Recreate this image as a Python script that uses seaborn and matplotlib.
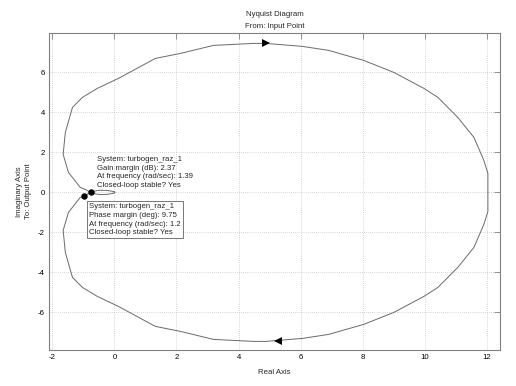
import matplotlib
matplotlib.use("Agg")
import matplotlib.pyplot as plt
import seaborn as sns
import pandas as pd

# Upper half of the Nyquist contour, traced from (12, 0) towards the origin
real_upper = [12.03, 12.03, 11.9, 11.58, 11.06, 10.42, 9.97, 9.0, 8.03, 6.9, 6.06,
              4.87, 4.48, 3.19, 2.13, 1.32, 0.13, -0.55, -1.03, -1.35, -1.58,
              -1.65, -1.48, -1.10, -0.94, -0.76, -0.6, -0.45, -0.25, -0.08, 0.02, 0.0]
imag_upper = [0.0, 0.95, 1.6, 2.75, 3.75, 4.75, 5.2, 6.0, 6.6, 7.1, 7.3,
              7.45, 7.45, 7.35, 6.95, 6.7, 5.7, 5.2, 4.75, 4.25, 3.0,
              1.9, 1.0, 0.25, 0.15, 0.0, -0.08, -0.11, -0.1, -0.06, -0.02, 0.0]

# margin points (gain margin crossing, phase margin point)
margin_re = [-0.76, -0.986]
margin_im = [0.0, -0.169]

# direction arrows
arrow_re = [4.87, 5.26]
arrow_im = [7.47, -7.45]
arrow_dir = [">", "<"]

xticks = [-2, 0, 2, 4, 6, 8, 10, 12]
yticks = [-6, -4, -2, 0, 2, 4, 6]

gm_text = ("System: turbogen_raz_1\nGain margin (dB): 2.37\n"
           "At frequency (rad/sec): 1.39\nClosed-loop stable? Yes")
pm_text = ("System: turbogen_raz_1\nPhase margin (deg): 9.75\n"
           "At frequency (rad/sec): 1.2\nClosed-loop stable? Yes")

sns.set_theme(style="white")
plt.rcParams['font.family'] = ['Liberation Sans', 'DejaVu Sans']
plt.rcParams['axes.unicode_minus'] = False

fig = plt.figure(figsize=(5.16, 3.86), dpi=100)
ax = fig.add_axes([49/516, 1-350/386, (500-49)/516, (350-33)/386])

upper = pd.DataFrame({"re": real_upper, "im": imag_upper})
lower = pd.DataFrame({"re": real_upper, "im": [-v for v in imag_upper]})
curve_color = "#6a6a6a"
sns.lineplot(data=upper, x="re", y="im", sort=False, estimator=None,
             color=curve_color, lw=0.7, ax=ax)
sns.lineplot(data=lower, x="re", y="im", sort=False, estimator=None,
             color=curve_color, lw=0.7, ax=ax)

for xr, yi, d in zip(arrow_re, arrow_im, arrow_dir):
    ax.plot([xr], [yi], marker=d, color="black", ms=6, mec="black", mew=0, ls="none")

ax.plot(margin_re, margin_im, "o", color="black", ms=3.6, ls="none", zorder=5)

ax.set_xlim(-2.106, 12.42)
ax.set_ylim(-7.88, 7.97)
ax.set_xticks(xticks)
ax.set_yticks(yticks)
ax.tick_params(direction="in", length=4, width=0.6, colors="#808080",
               labelcolor="black", labelsize=5.6, top=True, right=True,
               pad=3)
ax.grid(True, ls=(0, (1, 2)), lw=0.5, color="#b0b0b0")
for s in ax.spines.values():
    s.set_color("#808080")
    s.set_linewidth(0.8)

ax.set_xlabel("Real Axis", fontsize=5.6, labelpad=6)
ax.set_ylabel("Imaginary Axis\nTo: Output Point", fontsize=5.6, labelpad=4,
              linespacing=1.5)
ax.text(0.5, 1.0 + 19/317, "Nyquist Diagram", transform=ax.transAxes,
        ha="center", va="center", fontsize=5.6)
ax.text(0.5, 1.0 + 7/317, "From: Input Point", transform=ax.transAxes,
        ha="center", va="center", fontsize=5.6)

ax.text(-0.56, 1.82, gm_text, fontsize=5.6, ha="left", va="top", linespacing=1.32)
ax.text(-0.82, -0.55, pm_text, fontsize=5.6, ha="left", va="top", linespacing=1.32,
        bbox=dict(boxstyle="square,pad=0.25", fc="white", ec="#606060", lw=0.6))

fig.savefig("out.png", dpi=100, facecolor="white")
